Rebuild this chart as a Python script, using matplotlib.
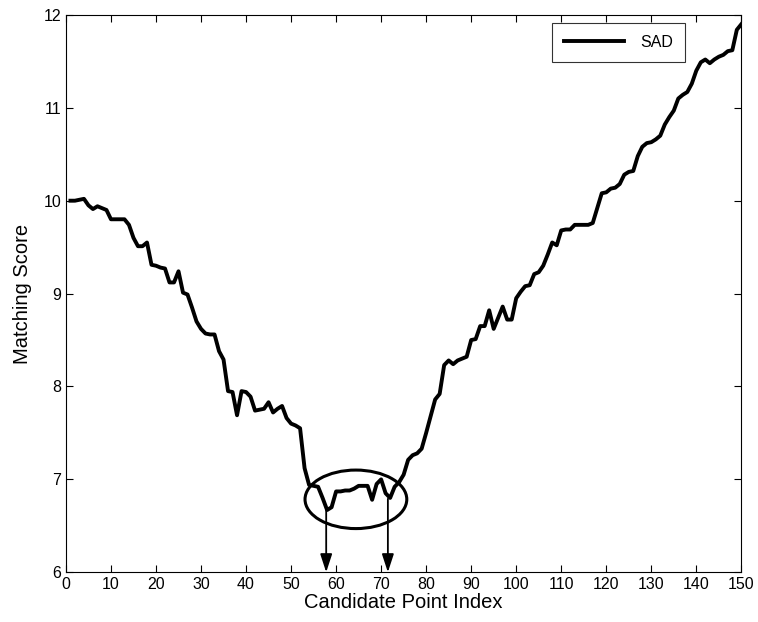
import matplotlib.pyplot as plt
from matplotlib.patches import Ellipse

plt.rcParams['font.family'] = ['Liberation Sans', 'DejaVu Sans']

# Sample data
index = list(range(1, 151))
sad = [10.00, 10.00, 10.01, 10.02, 9.95, 9.91, 9.94, 9.92, 9.90, 9.80,
       9.80, 9.80, 9.80, 9.74, 9.60, 9.51, 9.51, 9.55, 9.31, 9.30,
       9.28, 9.27, 9.12, 9.12, 9.24, 9.01, 8.99, 8.85, 8.70, 8.62,
       8.57, 8.56, 8.56, 8.38, 8.29, 7.95, 7.94, 7.69, 7.95, 7.94,
       7.89, 7.74, 7.75, 7.76, 7.83, 7.72, 7.76, 7.79, 7.66, 7.60,
       7.58, 7.55, 7.12, 6.94, 6.93, 6.92, 6.80, 6.67, 6.70, 6.87,
       6.87, 6.88, 6.88, 6.90, 6.93, 6.93, 6.93, 6.78, 6.95, 7.00,
       6.85, 6.80, 6.92, 6.97, 7.05, 7.21, 7.26, 7.28, 7.33, 7.50,
       7.68, 7.86, 7.92, 8.23, 8.28, 8.24, 8.28, 8.30, 8.32, 8.50,
       8.51, 8.65, 8.65, 8.82, 8.62, 8.74, 8.86, 8.72, 8.72, 8.95,
       9.02, 9.08, 9.09, 9.21, 9.23, 9.30, 9.42, 9.55, 9.52, 9.68,
       9.69, 9.69, 9.74, 9.74, 9.74, 9.74, 9.76, 9.92, 10.08, 10.09,
       10.13, 10.14, 10.18, 10.28, 10.31, 10.32, 10.48, 10.58, 10.62, 10.63,
       10.66, 10.70, 10.82, 10.90, 10.97, 11.10, 11.14, 11.17, 11.26, 11.40,
       11.49, 11.52, 11.48, 11.52, 11.55, 11.57, 11.61, 11.62, 11.84, 11.90]

# marked minima
minima_x = [57.8, 71.5]
minima_y = [6.67, 6.79]

fig = plt.figure(figsize=(7.58, 6.22), dpi=100)
ax = fig.add_axes([0.087, 0.080, 0.891, 0.896])

# Plot the data
ax.plot(index, sad, color='black', linewidth=2.8, label='SAD')

# ellipse round the minimum region
ax.add_patch(Ellipse((64.4, 6.785), 22.6, 0.63, fill=False,
                     edgecolor='black', linewidth=2.2))

# arrows down to the axis
for mx, my in zip(minima_x, minima_y):
    ax.annotate('', xy=(mx, 6.0), xytext=(mx, my),
                arrowprops=dict(arrowstyle='-|>,head_length=0.55,head_width=0.18',
                                color='black', lw=1.3, mutation_scale=20,
                                shrinkA=0, shrinkB=0))

ax.set_xlim(0, 150)
ax.set_ylim(6, 12)
ax.set_xticks(range(0, 151, 10))
ax.set_yticks(range(6, 13))
ax.tick_params(direction='in', top=True, right=True, labelsize=11.5, length=5)

ax.set_xlabel('Candidate Point Index', fontsize=14.5, labelpad=1)
ax.set_ylabel('Matching Score', fontsize=14.5, labelpad=8)

leg = ax.legend(loc='upper right', fontsize=11.5, fancybox=False,
                edgecolor='black', handlelength=3.8, handletextpad=1.0,
                borderpad=0.75, borderaxespad=0,
                bbox_to_anchor=(0.917, 0.986))
leg.get_frame().set_linewidth(0.8)

fig.savefig('out.png', dpi=100)
